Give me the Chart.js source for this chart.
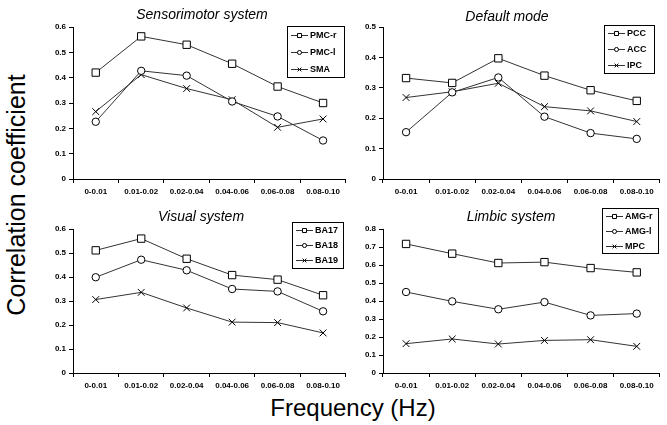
<!DOCTYPE html>
<html lang="en">
<head>
    <meta charset="UTF-8">
    <title>Correlation coefficient by frequency band</title>
    <script src="https://cdn.jsdelivr.net/npm/chart.js"></script>
    <style>
        body { margin: 0; background: #fff; font-family: Arial, "Liberation Sans", sans-serif; }
        #wrap { position: relative; width: 667px; height: 425px; overflow: hidden; background: #fff; }
        .panel { position: absolute; }
        .ptitle { position: absolute; width: 200px; height: 16px; line-height: 16px; text-align: center;
                  font-style: italic; font-size: 14px; color: #000; white-space: nowrap; }
        .ytitle { position: absolute; left: -134px; top: 180px; width: 300px; height: 30px; line-height: 30px;
                  text-align: center; font-size: 25px; transform: rotate(-90deg); white-space: nowrap; }
        .xtitle { position: absolute; left: 203px; top: 394px; width: 300px; height: 28px; line-height: 28px;
                  text-align: center; font-size: 24px; white-space: nowrap; }
    </style>
</head>
<body>
<div id="wrap">
    <div class="ytitle">Correlation coefficient</div>
    <div class="xtitle">Frequency (Hz)</div>

    <div class="panel" style="left:40px;top:17px;"><canvas id="sensorimotor" width="312" height="183"></canvas></div>
    <div class="panel" style="left:350px;top:17px;"><canvas id="defaultMode" width="316" height="183"></canvas></div>
    <div class="panel" style="left:40px;top:203px;"><canvas id="visual" width="312" height="191"></canvas></div>
    <div class="panel" style="left:350px;top:203px;"><canvas id="limbic" width="316" height="191"></canvas></div>

    <div class="ptitle" style="left:102px;top:6px;">Sensorimotor system</div>
    <div class="ptitle" style="left:407px;top:8px;">Default mode</div>
    <div class="ptitle" style="left:101px;top:208px;">Visual system</div>
    <div class="ptitle" style="left:411px;top:208px;">Limbic system</div>
</div>

<script>
    // frequency bands (x categories)
    const freqBands = ['0-0.01', '0.01-0.02', '0.02-0.04', '0.04-0.06', '0.06-0.08', '0.08-0.10'];

    // Sensorimotor system
    const pmcR = [0.420, 0.563, 0.530, 0.455, 0.365, 0.300];
    const pmcL = [0.226, 0.427, 0.408, 0.306, 0.247, 0.152];
    const sma  = [0.266, 0.412, 0.357, 0.313, 0.204, 0.237];

    // Default mode
    const pcc = [0.332, 0.316, 0.397, 0.340, 0.292, 0.257];
    const acc = [0.154, 0.285, 0.334, 0.205, 0.151, 0.132];
    const ipc = [0.268, 0.287, 0.315, 0.238, 0.224, 0.189];

    // Visual system
    const ba17 = [0.511, 0.560, 0.476, 0.408, 0.389, 0.324];
    const ba18 = [0.399, 0.472, 0.428, 0.350, 0.340, 0.257];
    const ba19 = [0.306, 0.336, 0.271, 0.212, 0.210, 0.167];

    // Limbic system
    const amgR = [0.717, 0.663, 0.611, 0.616, 0.583, 0.559];
    const amgL = [0.450, 0.398, 0.354, 0.394, 0.320, 0.330];
    const mpc  = [0.163, 0.189, 0.161, 0.181, 0.185, 0.148];

    // y-axis maximum per panel
    const yMaxSensorimotor = 0.6;
    const yMaxDefault = 0.5;
    const yMaxVisual = 0.6;
    const yMaxLimbic = 0.8;

    const lineColor = '#333';
    const tickFont = { family: 'Arial', size: 8, weight: 'bold' };

    // marker looks: square, circle, x
    const markers = [
        { pointStyle: 'rect', pointRadius: 5.2 },
        { pointStyle: 'circle', pointRadius: 3.7 },
        { pointStyle: 'crossRot', pointRadius: 4.8 }
    ];

    // boxed legend drawn inside the plot, like the original figure
    const boxLegend = {
        id: 'boxLegend',
        afterDraw(chart, args, opts) {
            const ctx = chart.ctx;
            const dsets = chart.data.datasets;
            const rowH = opts.h / dsets.length;
            ctx.save();
            ctx.fillStyle = '#fff';
            ctx.fillRect(opts.x, opts.y, opts.w, opts.h);
            ctx.strokeStyle = '#000';
            ctx.lineWidth = 1;
            ctx.strokeRect(opts.x + 0.5, opts.y + 0.5, opts.w, opts.h);
            ctx.font = 'bold 9px Arial';
            ctx.textBaseline = 'middle';
            dsets.forEach((ds, i) => {
                const cy = Math.round(opts.y + rowH * (i + 0.5)) + 0.5;
                ctx.strokeStyle = ds.borderColor;
                ctx.lineWidth = 1;
                ctx.beginPath();
                ctx.moveTo(opts.x + 4, cy);
                ctx.lineTo(opts.x + 21, cy);
                ctx.stroke();
                ctx.strokeStyle = '#000';
                ctx.fillStyle = '#fff';
                Chart.helpers.drawPoint(ctx, {
                    pointStyle: ds.pointStyle,
                    radius: ds.pointRadius * 0.55,
                    borderWidth: 1,
                    rotation: 0
                }, opts.x + 12.5, cy);
                ctx.fillStyle = '#000';
                ctx.fillText(ds.label, opts.x + 23, cy + 0.5);
            });
            ctx.restore();
        }
    };

    function makeDatasets(labels, series) {
        return series.map((values, i) => ({
            label: labels[i],
            data: values,
            borderColor: lineColor,
            borderWidth: 1,
            pointStyle: markers[i].pointStyle,
            pointRadius: markers[i].pointRadius,
            pointBorderColor: '#000',
            pointBackgroundColor: '#fff',
            pointBorderWidth: 1,
            tension: 0,
            fill: false
        }));
    }

    function makePanel(canvasId, labels, series, yMax, pad, legendBox) {
        const ctx = document.getElementById(canvasId).getContext('2d');
        return new Chart(ctx, {
            type: 'line',
            data: { labels: freqBands, datasets: makeDatasets(labels, series) },
            options: {
                responsive: false,
                animation: false,
                devicePixelRatio: 1,
                layout: { padding: pad },
                plugins: {
                    legend: { display: false },
                    tooltip: { enabled: false },
                    boxLegend: legendBox
                },
                scales: {
                    x: {
                        offset: true,
                        grid: { offset: true, drawOnChartArea: false, drawTicks: true, tickLength: 4, color: '#000' },
                        border: { display: true, color: '#000', width: 1 },
                        ticks: { font: tickFont, color: '#000', padding: 4, maxRotation: 0, autoSkip: false },
                        afterFit: (scale) => { scale.height = 21; }
                    },
                    y: {
                        min: 0,
                        max: yMax,
                        grid: { drawOnChartArea: false, drawTicks: true, tickLength: 4, color: '#000' },
                        border: { display: true, color: '#000', width: 1 },
                        ticks: {
                            stepSize: 0.1,
                            font: tickFont,
                            color: '#000',
                            padding: 3,
                            callback: (v) => (Math.abs(v) < 1e-9 ? '0' : v.toFixed(1))
                        },
                        afterFit: (scale) => { scale.width = 33; }
                    }
                }
            },
            plugins: [boxLegend]
        });
    }

    makePanel('sensorimotor', ['PMC-r', 'PMC-l', 'SMA'], [pmcR, pmcL, sma], yMaxSensorimotor,
        { top: 10, right: 4, left: 0, bottom: 0 }, { x: 247, y: 9, w: 57, h: 51 });
    makePanel('defaultMode', ['PCC', 'ACC', 'IPC'], [pcc, acc, ipc], yMaxDefault,
        { top: 10, right: 4, left: 0, bottom: 0 }, { x: 254, y: 8, w: 50, h: 48 });
    makePanel('visual', ['BA17', 'BA18', 'BA19'], [ba17, ba18, ba19], yMaxVisual,
        { top: 26, right: 4, left: 0, bottom: 0 }, { x: 252, y: 19, w: 51, h: 46 });
    makePanel('limbic', ['AMG-r', 'AMG-l', 'MPC'], [amgR, amgL, mpc], yMaxLimbic,
        { top: 26, right: 4, left: 0, bottom: 0 }, { x: 252, y: 5, w: 56, h: 45 });
</script>
</body>
</html>
